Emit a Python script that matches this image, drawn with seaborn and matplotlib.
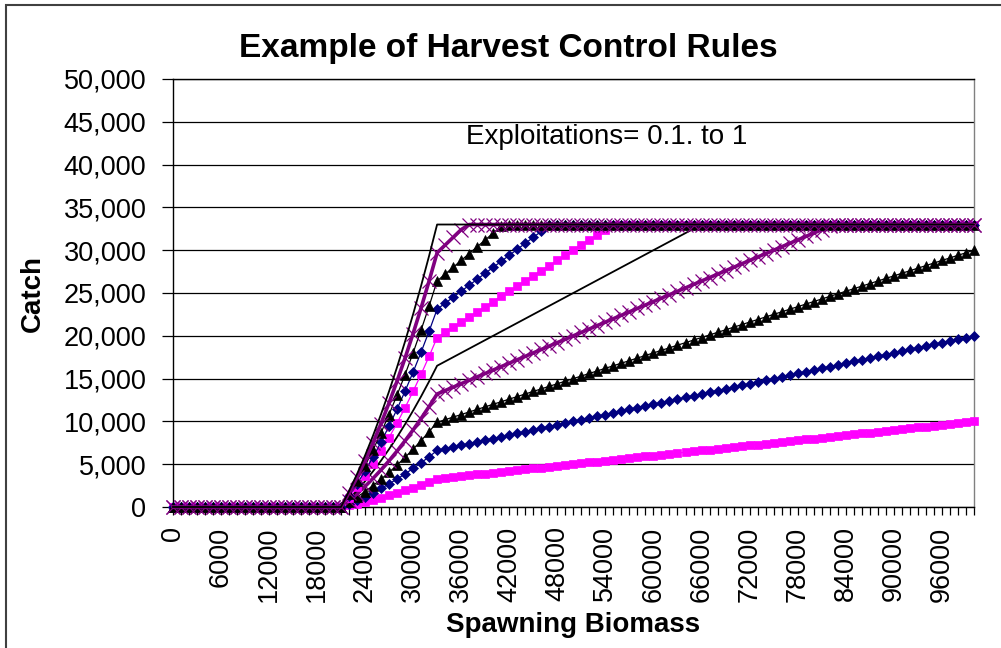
import matplotlib
matplotlib.use("Agg")
import matplotlib.pyplot as plt
import seaborn as sns
from matplotlib.patches import Rectangle
from matplotlib.ticker import FuncFormatter

# Spawning biomass categories (x)
biomass = [
    0, 1000, 2000, 3000, 4000, 5000, 6000, 7000, 8000, 9000,
    10000, 11000, 12000, 13000, 14000, 15000, 16000, 17000, 18000, 19000,
    20000, 21000, 22000, 23000, 24000, 25000, 26000, 27000, 28000, 29000,
    30000, 31000, 32000, 33000, 34000, 35000, 36000, 37000, 38000, 39000,
    40000, 41000, 42000, 43000, 44000, 45000, 46000, 47000, 48000, 49000,
    50000, 51000, 52000, 53000, 54000, 55000, 56000, 57000, 58000, 59000,
    60000, 61000, 62000, 63000, 64000, 65000, 66000, 67000, 68000, 69000,
    70000, 71000, 72000, 73000, 74000, 75000, 76000, 77000, 78000, 79000,
    80000, 81000, 82000, 83000, 84000, 85000, 86000, 87000, 88000, 89000,
    90000, 91000, 92000, 93000, 94000, 95000, 96000, 97000, 98000, 99000,
    100000,
]

# catch below the lower limit (0 - 21000)
zeros = [0, 0, 0, 0, 0, 0, 0, 0, 0, 0, 0, 0, 0, 0, 0, 0, 0, 0, 0, 0, 0, 0]

# catch per exploitation rate, 22000 upwards
catch_01 = zeros + [
    183, 383, 600, 833, 1083, 1350, 1633, 1933, 2250, 2583, 2933,
    3300, 3400, 3500, 3600, 3700, 3800, 3900, 4000, 4100, 4200,
    4300, 4400, 4500, 4600, 4700, 4800, 4900, 5000, 5100, 5200,
    5300, 5400, 5500, 5600, 5700, 5800, 5900, 6000, 6100, 6200,
    6300, 6400, 6500, 6600, 6700, 6800, 6900, 7000, 7100, 7200,
    7300, 7400, 7500, 7600, 7700, 7800, 7900, 8000, 8100, 8200,
    8300, 8400, 8500, 8600, 8700, 8800, 8900, 9000, 9100, 9200,
    9300, 9400, 9500, 9600, 9700, 9800, 9900, 10000,
]
catch_02 = zeros + [
    367, 767, 1200, 1667, 2167, 2700, 3267, 3867, 4500, 5167, 5867,
    6600, 6800, 7000, 7200, 7400, 7600, 7800, 8000, 8200, 8400,
    8600, 8800, 9000, 9200, 9400, 9600, 9800, 10000, 10200, 10400,
    10600, 10800, 11000, 11200, 11400, 11600, 11800, 12000, 12200, 12400,
    12600, 12800, 13000, 13200, 13400, 13600, 13800, 14000, 14200, 14400,
    14600, 14800, 15000, 15200, 15400, 15600, 15800, 16000, 16200, 16400,
    16600, 16800, 17000, 17200, 17400, 17600, 17800, 18000, 18200, 18400,
    18600, 18800, 19000, 19200, 19400, 19600, 19800, 20000,
]
catch_03 = zeros + [
    550, 1150, 1800, 2500, 3250, 4050, 4900, 5800, 6750, 7750, 8800,
    9900, 10200, 10500, 10800, 11100, 11400, 11700, 12000, 12300, 12600,
    12900, 13200, 13500, 13800, 14100, 14400, 14700, 15000, 15300, 15600,
    15900, 16200, 16500, 16800, 17100, 17400, 17700, 18000, 18300, 18600,
    18900, 19200, 19500, 19800, 20100, 20400, 20700, 21000, 21300, 21600,
    21900, 22200, 22500, 22800, 23100, 23400, 23700, 24000, 24300, 24600,
    24900, 25200, 25500, 25800, 26100, 26400, 26700, 27000, 27300, 27600,
    27900, 28200, 28500, 28800, 29100, 29400, 29700, 30000,
]
catch_04 = zeros + [
    733, 1533, 2400, 3333, 4333, 5400, 6533, 7733, 9000, 10333, 11733,
    13200, 13600, 14000, 14400, 14800, 15200, 15600, 16000, 16400, 16800,
    17200, 17600, 18000, 18400, 18800, 19200, 19600, 20000, 20400, 20800,
    21200, 21600, 22000, 22400, 22800, 23200, 23600, 24000, 24400, 24800,
    25200, 25600, 26000, 26400, 26800, 27200, 27600, 28000, 28400, 28800,
    29200, 29600, 30000, 30400, 30800, 31200, 31600, 32000, 32400, 32800,
    33000, 33000, 33000, 33000, 33000, 33000, 33000, 33000, 33000, 33000,
    33000, 33000, 33000, 33000, 33000, 33000, 33000, 33000,
]
catch_05 = zeros + [
    917, 1917, 3000, 4167, 5417, 6750, 8167, 9667, 11250, 12917, 14667,
    16500, 17000, 17500, 18000, 18500, 19000, 19500, 20000, 20500, 21000,
    21500, 22000, 22500, 23000, 23500, 24000, 24500, 25000, 25500, 26000,
    26500, 27000, 27500, 28000, 28500, 29000, 29500, 30000, 30500, 31000,
    31500, 32000, 32500, 33000, 33000, 33000, 33000, 33000, 33000, 33000,
    33000, 33000, 33000, 33000, 33000, 33000, 33000, 33000, 33000, 33000,
    33000, 33000, 33000, 33000, 33000, 33000, 33000, 33000, 33000, 33000,
    33000, 33000, 33000, 33000, 33000, 33000, 33000, 33000,
]
catch_06 = zeros + [
    1100, 2300, 3600, 5000, 6500, 8100, 9800, 11600, 13500, 15500, 17600,
    19800, 20400, 21000, 21600, 22200, 22800, 23400, 24000, 24600, 25200,
    25800, 26400, 27000, 27600, 28200, 28800, 29400, 30000, 30600, 31200,
    31800, 32400, 33000, 33000, 33000, 33000, 33000, 33000, 33000, 33000,
    33000, 33000, 33000, 33000, 33000, 33000, 33000, 33000, 33000, 33000,
    33000, 33000, 33000, 33000, 33000, 33000, 33000, 33000, 33000, 33000,
    33000, 33000, 33000, 33000, 33000, 33000, 33000, 33000, 33000, 33000,
    33000, 33000, 33000, 33000, 33000, 33000, 33000, 33000,
]
catch_07 = zeros + [
    1283, 2683, 4200, 5833, 7583, 9450, 11433, 13533, 15750, 18083, 20533,
    23100, 23800, 24500, 25200, 25900, 26600, 27300, 28000, 28700, 29400,
    30100, 30800, 31500, 32200, 32900, 33000, 33000, 33000, 33000, 33000,
    33000, 33000, 33000, 33000, 33000, 33000, 33000, 33000, 33000, 33000,
    33000, 33000, 33000, 33000, 33000, 33000, 33000, 33000, 33000, 33000,
    33000, 33000, 33000, 33000, 33000, 33000, 33000, 33000, 33000, 33000,
    33000, 33000, 33000, 33000, 33000, 33000, 33000, 33000, 33000, 33000,
    33000, 33000, 33000, 33000, 33000, 33000, 33000, 33000,
]
catch_08 = zeros + [
    1467, 3067, 4800, 6667, 8667, 10800, 13067, 15467, 18000, 20667, 23467,
    26400, 27200, 28000, 28800, 29600, 30400, 31200, 32000, 32800, 33000,
    33000, 33000, 33000, 33000, 33000, 33000, 33000, 33000, 33000, 33000,
    33000, 33000, 33000, 33000, 33000, 33000, 33000, 33000, 33000, 33000,
    33000, 33000, 33000, 33000, 33000, 33000, 33000, 33000, 33000, 33000,
    33000, 33000, 33000, 33000, 33000, 33000, 33000, 33000, 33000, 33000,
    33000, 33000, 33000, 33000, 33000, 33000, 33000, 33000, 33000, 33000,
    33000, 33000, 33000, 33000, 33000, 33000, 33000, 33000,
]
catch_09 = zeros + [
    1650, 3450, 5400, 7500, 9750, 12150, 14700, 17400, 20250, 23250, 26400,
    29700, 30600, 31500, 32400, 33000, 33000, 33000, 33000, 33000, 33000,
    33000, 33000, 33000, 33000, 33000, 33000, 33000, 33000, 33000, 33000,
    33000, 33000, 33000, 33000, 33000, 33000, 33000, 33000, 33000, 33000,
    33000, 33000, 33000, 33000, 33000, 33000, 33000, 33000, 33000, 33000,
    33000, 33000, 33000, 33000, 33000, 33000, 33000, 33000, 33000, 33000,
    33000, 33000, 33000, 33000, 33000, 33000, 33000, 33000, 33000, 33000,
    33000, 33000, 33000, 33000, 33000, 33000, 33000, 33000,
]
catch_10 = zeros + [
    1833, 3833, 6000, 8333, 10833, 13500, 16333, 19333, 22500, 25833, 29333,
    33000, 33000, 33000, 33000, 33000, 33000, 33000, 33000, 33000, 33000,
    33000, 33000, 33000, 33000, 33000, 33000, 33000, 33000, 33000, 33000,
    33000, 33000, 33000, 33000, 33000, 33000, 33000, 33000, 33000, 33000,
    33000, 33000, 33000, 33000, 33000, 33000, 33000, 33000, 33000, 33000,
    33000, 33000, 33000, 33000, 33000, 33000, 33000, 33000, 33000, 33000,
    33000, 33000, 33000, 33000, 33000, 33000, 33000, 33000, 33000, 33000,
    33000, 33000, 33000, 33000, 33000, 33000, 33000, 33000,
]

xtick_labels = ['0', '6000', '12000', '18000', '24000', '30000', '36000', '42000',
                '48000', '54000', '60000', '66000', '72000', '78000', '84000',
                '90000', '96000']
ytick_values = [0, 5000, 10000, 15000, 20000, 25000, 30000, 35000, 40000, 45000, 50000]

series = [catch_01, catch_02, catch_03, catch_04, catch_05,
          catch_06, catch_07, catch_08, catch_09, catch_10]

# Excel-like styles (square, diamond, triangle, x, plain) repeated twice
styles = [
    dict(color='#FF00FF', marker='s', markersize=5.8, lw=0.9),
    dict(color='#000080', marker='D', markersize=5.4, lw=0.9),
    dict(color='#000000', marker='^', markersize=7.6, lw=0.9),
    dict(color='#800080', marker='x', markersize=10, lw=2.6, mew=0.9),
    dict(color='#000000', marker=None, markersize=0, lw=1.3),
]
styles = styles + styles

sns.set_style("white")
plt.rcParams['font.family'] = ['Liberation Sans', 'DejaVu Sans']
plt.rcParams['text.color'] = '#000000'
plt.rcParams['xtick.color'] = '#000000'
plt.rcParams['ytick.color'] = '#000000'

fig = plt.figure(figsize=(10.01, 6.48), dpi=100)
ax = fig.add_axes([0.1725, 0.2176, 0.8005, 0.6605])

for vals, st in zip(series, styles):
    kw = dict(color=st['color'], linewidth=st['lw'])
    if st['marker']:
        kw.update(marker=st['marker'], markersize=st['markersize'],
                  markeredgecolor=st['color'], markerfacecolor=st['color'],
                  markeredgewidth=st.get('mew', 0.5))
    sns.lineplot(x=biomass, y=vals, ax=ax, clip_on=False, zorder=3, **kw)

ax.set_xlim(biomass[0], biomass[-1])
ax.set_ylim(ytick_values[0], ytick_values[-1])

ax.set_xticks([int(s) for s in xtick_labels])
ax.set_xticklabels(xtick_labels, rotation=90, fontsize=19.5, va='top')
ax.set_xticks(biomass, minor=True)
ax.tick_params(axis='x', which='both', direction='out', length=6, width=0.9,
               color='#000000', labelcolor='#000000', pad=8, bottom=True)
ax.tick_params(axis='x', which='minor', labelbottom=False)

ax.set_yticks(ytick_values)
ax.yaxis.set_major_formatter(FuncFormatter(lambda v, p: f"{int(v):,}"))
ax.tick_params(axis='y', direction='out', length=8, width=0.9, color='#000000',
               labelcolor='#000000', labelsize=19.5, pad=11, left=True)

ax.grid(axis='y', color='#000000', linewidth=0.9)
ax.set_axisbelow(True)
for side in ['left', 'bottom', 'top']:
    ax.spines[side].set_color('#000000')
    ax.spines[side].set_linewidth(1.0)
ax.spines['right'].set_color('#808080')
ax.spines['right'].set_linewidth(1.0)
ax.set_xlabel('')
ax.set_ylabel('')

ax.text(54200, 43200, 'Exploitations= 0.1. to 1', fontsize=20, color='#000000',
        ha='center', va='center')

fig.text(508 / 1001, 1 - 49 / 648, 'Example of Harvest Control Rules',
         fontsize=24, fontweight='bold', color='#000000', ha='center', va='center')
fig.text(33 / 1001, 1 - 293 / 648, 'Catch', fontsize=20, fontweight='bold',
         color='#000000', rotation=90, ha='center', va='center')
fig.text(573 / 1001, 1 - 625 / 648, 'Spawning Biomass', fontsize=20,
         fontweight='bold', color='#000000', ha='center', va='center')

# outer chart frame (only top/left visible in the crop)
fig.add_artist(Rectangle((6 / 1001, -0.1), 1.2, 1 - 5 / 648 + 0.1,
                         transform=fig.transFigure, fill=False,
                         edgecolor='#404040', linewidth=1.5))

fig.savefig('out.png', dpi=100)
